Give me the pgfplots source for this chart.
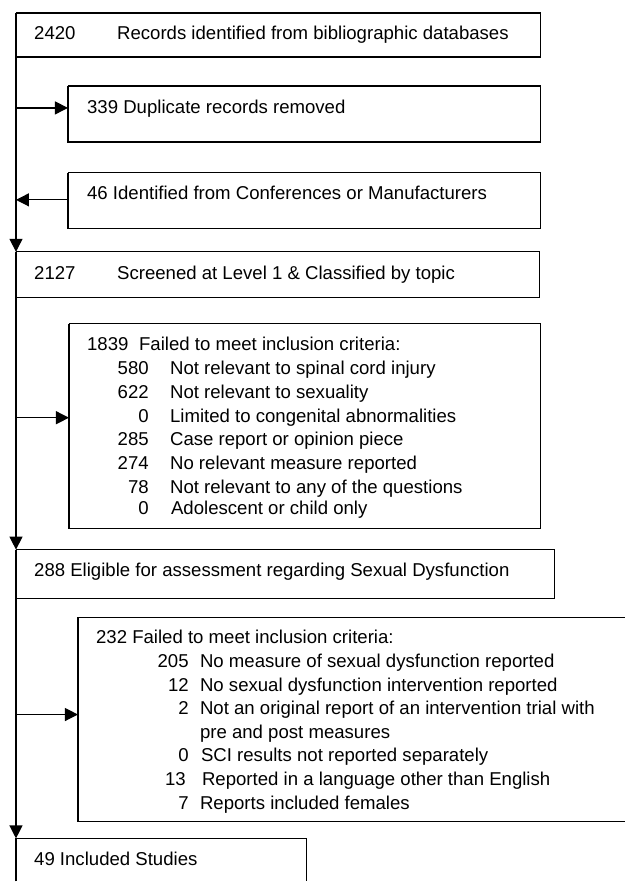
\documentclass[border=0pt]{standalone}
\usepackage{pgfplots}
\pgfplotsset{compat=1.18}
\usepackage{fontspec}
\setmainfont{Liberation Sans}
\usetikzlibrary{arrows.meta}
\newcommand\fs{\fontsize{18.6bp}{24bp}\selectfont}
\pgfplotsset{
  box/.style={black,line width=1.2bp,no markers,line join=miter},
  arr/.style={box,-{Triangle[length=13bp,width=13bp]}},
}
\tikzset{
  L/.style={anchor=base west,inner sep=0pt,font=\fs},
  R/.style={anchor=base east,inner sep=0pt,font=\fs},
}
\begin{document}
\begin{tikzpicture}
\begin{axis}[width=625bp,height=882bp,scale only axis,
  xmin=0,xmax=625,ymin=0,ymax=882,y dir=reverse,
  hide axis,clip=false]
% invisible frame that fixes the picture's extent
\addplot[draw=none,no markers,forget plot] coordinates {(0,0) (625,0) (625,882) (0,882) (0,0)};
% boxes
\addplot[box] coordinates {(16,13) (541,13) (541,57) (16,57) (16,13)};
\addplot[box] coordinates {(68,86) (541,86) (541,142) (68,142) (68,86)};
\addplot[box] coordinates {(68,173) (541,173) (541,229) (68,229) (68,173)};
\addplot[box] coordinates {(16,252) (540,252) (540,298) (16,298) (16,252)};
\addplot[box] coordinates {(69,324) (541,324) (541,529) (69,529) (69,324)};
\addplot[box] coordinates {(16,550) (555,550) (555,599) (16,599) (16,550)};
\addplot[box] coordinates {(625,618) (78,618) (78,822) (625,822)};
\addplot[box] coordinates {(16,882) (16,839) (307,839) (307,882)};
% main vertical flow
\addplot[arr] coordinates {(16,57) (16,252)};
\addplot[arr] coordinates {(16,298) (16,550)};
\addplot[arr] coordinates {(16,599) (16,839)};
% side arrows
\addplot[arr] coordinates {(16,108) (68,108)};
\addplot[arr] coordinates {(68,200) (16,200)};
\addplot[arr] coordinates {(16,418) (69,418)};
\addplot[arr] coordinates {(16,715) (78,715)};
% texts
\node[L] at (axis cs:34,40) {2420};
\node[L] at (axis cs:117,40) {Records identified from bibliographic databases};
\node[L] at (axis cs:87,114) {339 Duplicate records removed};
\node[L] at (axis cs:87,200) {46 Identified from Conferences or Manufacturers};
\node[L] at (axis cs:34,280) {2127};
\node[L] at (axis cs:117,280) {Screened at Level 1 \& Classified by topic};
% box 5
\node[L] at (axis cs:87,351) {1839};
\node[L] at (axis cs:139,351) {Failed to meet inclusion criteria:};
\node[R] at (axis cs:149,375) {580};
\node[L] at (axis cs:170,375) {Not relevant to spinal cord injury};
\node[R] at (axis cs:149,399) {622};
\node[L] at (axis cs:170,399) {Not relevant to sexuality};
\node[R] at (axis cs:149,423) {0};
\node[L] at (axis cs:170,423) {Limited to congenital abnormalities};
\node[R] at (axis cs:149,446) {285};
\node[L] at (axis cs:170,446) {Case report or opinion piece};
\node[R] at (axis cs:149,469.5) {274};
\node[L] at (axis cs:170,469.5) {No relevant measure reported};
\node[R] at (axis cs:149,493.5) {78};
\node[L] at (axis cs:170,493.5) {Not relevant to any of the questions};
\node[R] at (axis cs:149,515) {0};
\node[L] at (axis cs:171,515) {Adolescent or child only};
% box 6
\node[L] at (axis cs:34,577) {288 Eligible for assessment regarding Sexual Dysfunction};
% box 7
\node[L] at (axis cs:96,643.5) {232 Failed to meet inclusion criteria:};
\node[R] at (axis cs:189,667.5) {205};
\node[L] at (axis cs:200,667.5) {No measure of sexual dysfunction reported};
\node[R] at (axis cs:189,691.5) {12};
\node[L] at (axis cs:200,691.5) {No sexual dysfunction intervention reported};
\node[R] at (axis cs:189,715) {2};
\node[L] at (axis cs:200,715) {Not an original report of an intervention trial with};
\node[L] at (axis cs:200,738.5) {pre and post measures};
\node[R] at (axis cs:189,762.5) {0};
\node[L] at (axis cs:201,762.5) {SCI results not reported separately};
\node[R] at (axis cs:186,786.5) {13};
\node[L] at (axis cs:202,786.5) {Reported in a language other than English};
\node[R] at (axis cs:189,810) {7};
\node[L] at (axis cs:200,810) {Reports included females};
% box 8
\node[L] at (axis cs:34,866) {49 Included Studies};
\end{axis}
\end{tikzpicture}
\end{document}
